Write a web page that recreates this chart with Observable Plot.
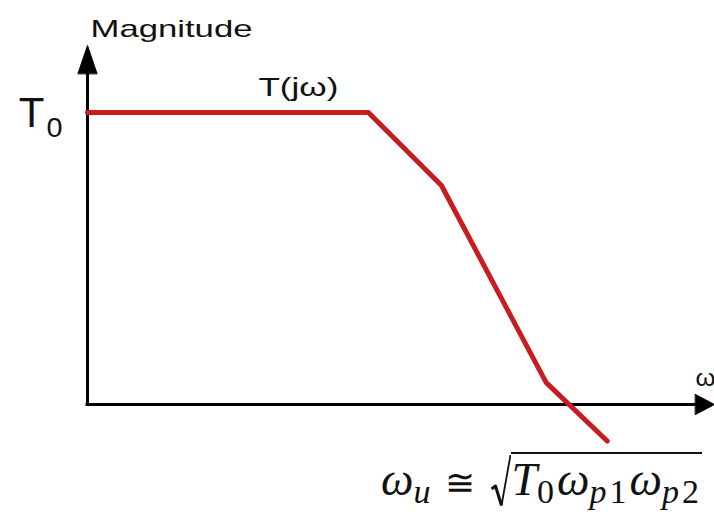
<!DOCTYPE html>
<html>
<head>
<meta charset="utf-8">
<script src="https://cdn.jsdelivr.net/npm/d3@7"></script>
<script src="https://cdn.jsdelivr.net/npm/@observablehq/plot@0.6"></script>
<style>
  html, body { margin: 0; padding: 0; background: #fff; }
  #chart { position: relative; width: 714px; height: 529px; overflow: hidden; }
  #formula {
    position: absolute; left: 381px; top: 450px;
    font-family: "Liberation Serif", serif; font-size: 46px; line-height: 60px;
    color: #111; white-space: nowrap;
  }
  #formula i { font-style: italic; }
  #formula sub { font-size: 34px; letter-spacing: 3px; vertical-align: -8px; line-height: 0; }
  #formula .rel { font-family: "DejaVu Serif", serif; font-size: 36px; margin: 0 16px 0 12px; }
  #formula .rad { vertical-align: -13px; margin-right: 0; }
  #formula .arg { border-top: 2px solid #111; padding-top: 0; }
</style>
</head>
<body>
<div id="chart">
  <div id="formula"><i>ω</i><sub><i>u</i></sub><span class="rel">≅</span><svg class="rad" width="20" height="55" viewBox="0 0 20 55"><path d="M0.5,36 L4.5,33 L10.5,52.5" fill="none" stroke="#111" stroke-width="3" stroke-linejoin="round"/><path d="M10.5,52.5 L19.5,2" fill="none" stroke="#111" stroke-width="1.8"/></svg><span class="arg"><i>T</i><sub>0</sub><i>ω</i><sub><i>p</i>1</sub><i>ω</i><sub><i>p</i>2</sub></span></div>
</div>
<script>
// Asymptotic Bode magnitude of T(jω): flat at T0, then -20, -40 and -20 dB/decade
const omega = [1, 7e3, 7e4, 1.9e6, 1.3e7];       // rad/s, break points
const magnitudeDb = [80, 80, 60, 6, -10];         // dB
const omegaMax = 2.1e8;                           // end of the ω axis
const magMax = 90.7;                              // top of the magnitude axis
const gainDb = 80;                                // T0
const yAxisLabel = "Magnitude";
const xAxisLabel = "ω";
const curveLabel = "T(jω)";
const gainLabel = "T";
const gainSub = "0";

const curve = omega.map((w, i) => ({omega: w, mag: magnitudeDb[i]}));

// filled triangular arrowhead, base at the anchor, tip at distance l
const arrowHead = {
  draw(context, l, r) {
    context.moveTo(-r, 0);
    context.lineTo(0, -l);
    context.lineTo(r, 0);
    context.closePath();
  }
};

const sans = "'Liberation Sans', Arial, sans-serif";
const ink = "#111";

const plot = Plot.plot({
  width: 714,
  height: 529,
  marginLeft: 87,
  marginRight: 19,
  marginTop: 73,
  marginBottom: 125,
  x: {type: "log", domain: [1, omegaMax], axis: null},
  y: {domain: [0, magMax], axis: null},
  style: {background: "transparent", overflow: "visible"},
  marks: [
    // axes
    Plot.ruleY([0], {x1: 1, x2: omegaMax, stroke: "#000", strokeWidth: 3, strokeLinecap: "square"}),
    Plot.ruleX([1], {y1: 0, y2: magMax, stroke: "#000", strokeWidth: 3, strokeLinecap: "square"}),
    Plot.vector([{x: omegaMax, y: 0}], {x: "x", y: "y", rotate: 90, length: 19, r: 10, anchor: "start",
      shape: arrowHead, fill: "#000", stroke: "#000", strokeWidth: 1}),
    Plot.vector([{x: 1, y: magMax}], {x: "x", y: "y", rotate: 0, length: 28, r: 9.5, anchor: "start",
      shape: arrowHead, fill: "#000", stroke: "#000", strokeWidth: 1}),
    // magnitude response
    Plot.line(curve, {x: "omega", y: "mag", stroke: "#c81d20", strokeWidth: 5,
      strokeLinejoin: "round", strokeLinecap: "round"}),
    // labels
    Plot.text([{x: 1, y: magMax, t: yAxisLabel}], {x: "x", y: "y", text: "t", textAnchor: "start",
      dx: 3, dy: -44, fontSize: 24, fontFamily: sans, fill: ink}),
    Plot.text([{x: omegaMax, y: 0, t: xAxisLabel}], {x: "x", y: "y", text: "t", textAnchor: "start",
      dx: 0, dy: -26, fontSize: 23, fontFamily: sans, fill: ink}),
    Plot.text([{x: omega[1], y: gainDb, t: curveLabel}], {x: "x", y: "y", text: "t", textAnchor: "middle",
      dx: -70, dy: -25, fontSize: 25, fontFamily: sans, fill: ink}),
    Plot.text([{x: 1, y: gainDb, t: gainLabel}], {x: "x", y: "y", text: "t", textAnchor: "end",
      dx: -43, dy: 1, fontSize: 42, fontFamily: sans, fill: ink}),
    Plot.text([{x: 1, y: gainDb, t: gainSub}], {x: "x", y: "y", text: "t", textAnchor: "start",
      dx: -41, dy: 16, fontSize: 27, fontFamily: sans, fill: ink})
  ]
});

// the labels are set in a wide face: stretch them to their drawn widths
const widths = {[yAxisLabel]: 162, [curveLabel]: 80, [xAxisLabel]: 20, [gainSub]: 16};
d3.select(plot).selectAll("text").each(function () {
  const w = widths[this.textContent];
  if (w) {
    this.setAttribute("textLength", w);
    this.setAttribute("lengthAdjust", "spacingAndGlyphs");
  }
});

const chart = document.getElementById("chart");
chart.insertBefore(plot, chart.firstChild);
</script>
</body>
</html>
